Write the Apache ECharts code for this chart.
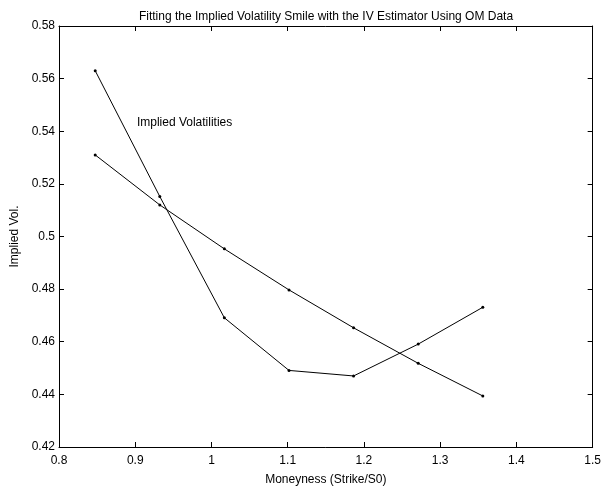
<!DOCTYPE html>
<html>
<head>
<meta charset="utf-8">
<script src="https://cdn.jsdelivr.net/npm/echarts@6/dist/echarts.min.js"></script>
<style>html,body{margin:0;padding:0;background:#fff}#c{width:604px;height:491px}</style>
</head>
<body>
<div id="c"></div>
<script>
const moneyness = [0.8475, 0.9322, 1.0169, 1.1017, 1.1864, 1.2712, 1.3559];
const impliedVols = [0.5630, 0.5152, 0.4691, 0.4491, 0.4470, 0.4591, 0.4731];
const estimatorVols = [0.5310, 0.5120, 0.4953, 0.4797, 0.4653, 0.4518, 0.4394];
const xTicks = [0.8, 0.9, 1.0, 1.1, 1.2, 1.3, 1.4, 1.5];
const yTicks = [0.42, 0.44, 0.46, 0.48, 0.50, 0.52, 0.54, 0.56, 0.58];
const titleText = 'Fitting the Implied Volatility Smile with the IV Estimator Using OM Data';
const xName = 'Moneyness (Strike/S0)';
const yName = 'Implied Vol.';
const annotationText = 'Implied Volatilities';
const annotationAt = [0.9022, 0.5433];

const FONT = '"Liberation Sans", Arial, Helvetica, sans-serif';
const chart = echarts.init(document.getElementById('c'));
const pairs = (xs, ys) => xs.map((x, i) => [x, ys[i]]);
const axisCommon = {
  axisLine: {show: true, lineStyle: {color: '#000', width: 1}},
  axisTick: {show: true, inside: true, length: 5, lineStyle: {color: '#000'}},
  splitLine: {show: false}
};
chart.setOption({
  animation: false,
  backgroundColor: '#fff',
  textStyle: {fontFamily: FONT},
  title: {
    text: titleText, left: 326, top: 11, padding: 0, textAlign: 'center',
    textStyle: {fontSize: 12, fontWeight: 'normal', color: '#000', fontFamily: FONT}
  },
  grid: {left: 59, right: 11, top: 26, bottom: 44, containLabel: false},
  xAxis: [
    Object.assign({
      type: 'value', min: xTicks[0], max: xTicks[xTicks.length - 1], interval: 0.1,
      position: 'bottom',
      name: xName, nameLocation: 'middle', nameGap: 27,
      nameTextStyle: {fontSize: 12, color: '#000', fontFamily: FONT},
      axisLabel: {fontSize: 12, color: '#000', margin: 8, fontFamily: FONT,
        formatter: v => String(+v.toFixed(2))}
    }, axisCommon),
    Object.assign({
      type: 'value', min: xTicks[0], max: xTicks[xTicks.length - 1], interval: 0.1,
      position: 'top', axisLabel: {show: false}
    }, axisCommon)
  ],
  yAxis: [
    Object.assign({
      type: 'value', min: yTicks[0], max: yTicks[yTicks.length - 1], interval: 0.02,
      position: 'left',
      name: yName, nameLocation: 'middle', nameGap: 38,
      nameTextStyle: {fontSize: 12, color: '#000', fontFamily: FONT},
      axisLabel: {fontSize: 12, color: '#000', margin: 4, fontFamily: FONT,
        formatter: v => String(+v.toFixed(2))}
    }, axisCommon),
    Object.assign({
      type: 'value', min: yTicks[0], max: yTicks[yTicks.length - 1], interval: 0.02,
      position: 'right', axisLabel: {show: false}
    }, axisCommon)
  ],
  series: [
    {
      type: 'line', data: pairs(moneyness, impliedVols),
      symbol: 'circle', symbolSize: 3, showSymbol: true,
      lineStyle: {color: '#000', width: 1}, itemStyle: {color: '#000'},
      markPoint: {
        symbol: 'circle', symbolSize: 0,
        data: [{coord: annotationAt}],
        label: {show: true, position: 'right', distance: 0, formatter: annotationText,
          color: '#000', fontSize: 12, fontFamily: FONT}
      }
    },
    {
      type: 'line', data: pairs(moneyness, estimatorVols),
      symbol: 'circle', symbolSize: 3, showSymbol: true,
      lineStyle: {color: '#000', width: 1}, itemStyle: {color: '#000'}
    }
  ]
});
</script>
</body>
</html>
